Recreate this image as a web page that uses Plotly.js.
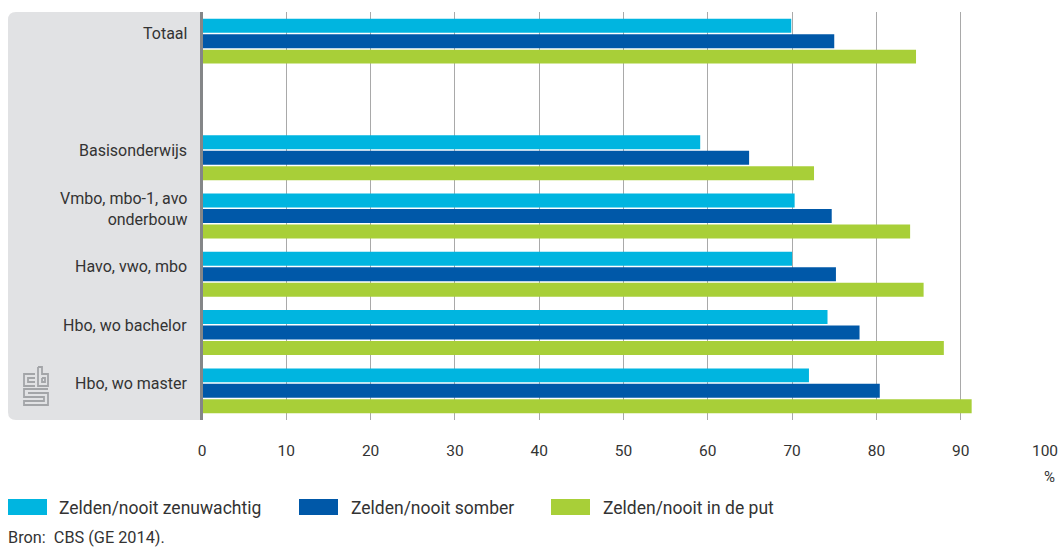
<!DOCTYPE html>
<html><head><meta charset="utf-8">
<script src="https://cdn.plot.ly/plotly-3.0.1.min.js"></script>
<style>html,body{margin:0;padding:0;background:#fff}</style></head>
<body><div id="chart" style="width:1059px;height:547px"></div>
<script>
var categories = ["Totaal", " ", "Basisonderwijs", "Vmbo, mbo-1, avo<br>onderbouw", "Havo, vwo, mbo", "Hbo, wo bachelor", "Hbo, wo master"];
var zenuwachtig = [69.9, null, 59.1, 70.3, 70.0, 74.2, 72.0];
var somber = [75.0, null, 64.9, 74.7, 75.2, 78.0, 80.4];
var inDePut = [84.7, null, 72.6, 84.0, 85.6, 88.0, 91.3];
var xTicks = [0,10,20,30,40,50,60,70,80,90,100];
var seriesNames = ["Zelden/nooit zenuwachtig", "Zelden/nooit somber", "Zelden/nooit in de put"];
var seriesColors = ["#00b5e0", "#0058a8", "#a8cf38"];
var source = "Bron:  CBS (GE 2014).";
var unit = "%";

var W = 1059, H = 547, L = 202, T = 12, PW = 843, PH = 408;
var FONT = 'Roboto, sans-serif', TXT = '#333333';
function px(x){return (x-L)/PW;}
function py(y){return 1-(y-T)/PH;}
var vals = [zenuwachtig, somber, inDePut];
var traces = vals.map(function(v,i){return {type:'bar',orientation:'h',name:seriesNames[i],y:categories,x:v,marker:{color:seriesColors[i]},showlegend:false,hoverinfo:'x+name'};});

function P(x,y){return px(x).toFixed(5)+','+py(y).toFixed(5);}
var shapes = [{type:'path',xref:'paper',yref:'paper',layer:'below',fillcolor:'#e1e2e4',line:{width:0},
  path:'M'+P(200,12)+' L'+P(16,12)+' Q'+P(8,12)+' '+P(8,20)+' L'+P(8,412)+' Q'+P(8,420)+' '+P(16,420)+' L'+P(200,420)+' Z'}];
var swatchX = [8,299,551], labelX = [57,349,601];
seriesNames.forEach(function(n,i){
  shapes.push({type:'rect',xref:'paper',yref:'paper',x0:px(swatchX[i]),x1:px(swatchX[i]+39),y0:py(499),y1:py(515),fillcolor:seriesColors[i],line:{width:0}});
});
// cbs logo outlines
var logo = [
 [[35,374],[24,374],[24,386],[35,386]],
 [[35,378],[28,378],[28,382],[35,382]],
 [[38,367],[38,386],[48,386],[48,374],[42,374],[42,367],[38,367]],
 [[42,378],[45,378],[45,382],[42,382],[42,378]],
 [[48,389],[24,389],[24,397],[44,397],[44,401],[24,401],[24,405],[48,405],[48,393],[28,393]]
];
logo.forEach(function(pts){
  shapes.push({type:'path',xref:'paper',yref:'paper',layer:'above',line:{color:'#a3a5a8',width:1.8},
    path:'M'+pts.map(function(p){return P(p[0],p[1]);}).join(' L')});
});
// axis bar at zero
shapes.push({type:'rect',xref:'paper',yref:'paper',x0:px(200),x1:px(203),y0:0,y1:1,layer:'above',fillcolor:'#848688',line:{width:0}});

var annotations = categories.map(function(c){
  return {xref:'paper',yref:'y',x:px(189),y:c,text:c===' '?'':c,showarrow:false,xanchor:'right',yanchor:'middle',align:'right',yshift:7.5,font:{family:FONT,size:16,color:TXT}};
});
seriesNames.forEach(function(n,i){
  annotations.push({xref:'paper',yref:'paper',x:px(labelX[i]),y:py(508),text:n,showarrow:false,xanchor:'left',yanchor:'middle',font:{family:FONT,size:17.5,color:TXT}});
});
annotations.push({xref:'paper',yref:'paper',x:px(6),y:py(537),text:source,showarrow:false,xanchor:'left',yanchor:'middle',font:{family:FONT,size:16.3,color:TXT}});
annotations.push({xref:'paper',yref:'paper',x:px(1057),y:py(477),text:unit,showarrow:false,xanchor:'right',yanchor:'middle',font:{family:FONT,size:15,color:TXT}});

Plotly.newPlot('chart',traces,{
  width:W,height:H,margin:{l:L,r:W-L-PW,t:T,b:H-T-PH},
  paper_bgcolor:'#fff',plot_bgcolor:'rgba(0,0,0,0)',
  barmode:'group',bargap:0.204,bargroupgap:0.097,
  font:{family:FONT,size:15,color:TXT},
  xaxis:{range:[0,100],tickmode:'array',tickvals:xTicks,ticktext:xTicks.map(String),showgrid:true,gridcolor:'#a9a9a9',gridwidth:1,zeroline:false,showline:false,ticks:'',ticklen:0,tickfont:{family:FONT,size:15.5,color:TXT},automargin:false,side:'bottom',ticklabelstandoff:19},
  yaxis:{type:'category',categoryorder:'array',categoryarray:categories,autorange:'reversed',showticklabels:false,showgrid:false,zeroline:false,showline:false,ticks:'',fixedrange:true},
  shapes:shapes,annotations:annotations,showlegend:false
},{displayModeBar:false,staticPlot:true});
</script></body></html>
